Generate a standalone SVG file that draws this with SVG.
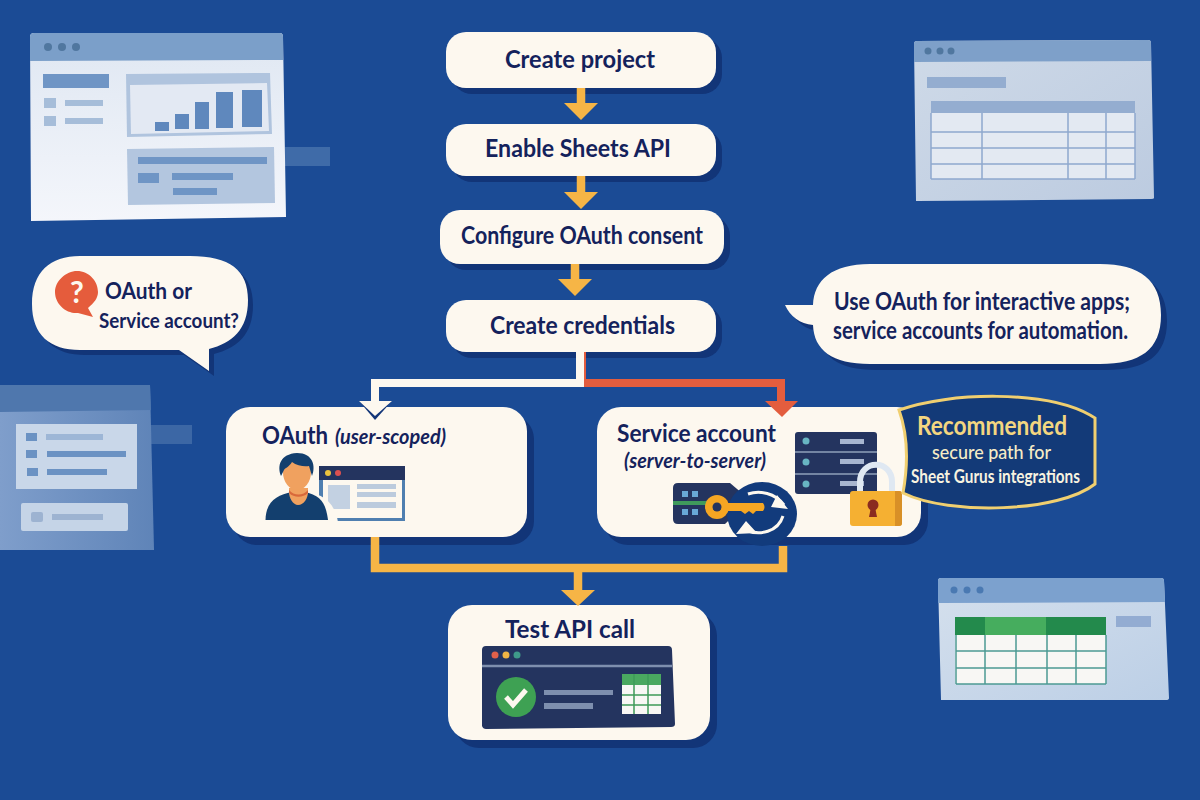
<svg xmlns="http://www.w3.org/2000/svg" width="1200" height="800" viewBox="0 0 1200 800">
<style>
text{font-family:"Lato","Open Sans","Liberation Sans",sans-serif;fill:#14225c;font-weight:700}
.t{font-size:24px}
.card{fill:#fdf8ef}
.sh{fill:#123578}
.y{fill:none;stroke:#f6b546;stroke-width:8.500}
</style>
<defs>
<marker id="ay" markerUnits="userSpaceOnUse" markerWidth="34" markerHeight="20" refX="17" refY="0" orient="0" viewBox="0 0 34 20" overflow="visible"><path d="M0 0H34L17 17Z" fill="#f6b546"/></marker>
<linearGradient id="w1" x1="0" y1="0" x2="0" y2="1"><stop offset="0" stop-color="#dfe7f2"/><stop offset="1" stop-color="#f4f6fb"/></linearGradient>
<linearGradient id="w3" x1="0" y1="0" x2="1" y2="0"><stop offset="0" stop-color="#7f9ecb"/><stop offset="1" stop-color="#5f84b8"/></linearGradient>
<linearGradient id="w2" x1="0" y1="0" x2="1" y2="1"><stop offset="0" stop-color="#cfdae8"/><stop offset="1" stop-color="#bccbe0"/></linearGradient>
<linearGradient id="w4" x1="0" y1="0" x2="1" y2="1"><stop offset="0" stop-color="#d5e0ed"/><stop offset="1" stop-color="#bccfe6"/></linearGradient>
</defs>
<rect width="1200" height="800" fill="#1b4b95"/>

<g id="window-dashboard">
<rect x="285" y="147" width="45" height="19" fill="#3f6ba8"/>
<path d="M30 37Q30 33 34 33L280 33Q283 33 283 37L286 217L31 221Z" fill="url(#w1)"/>
<path d="M30 37Q30 33 34 33L280 33Q283 33 283 37V60L30 61Z" fill="#7b9fc9"/>
<g fill="#50779f"><circle cx="48" cy="47" r="4"/><circle cx="62" cy="47" r="4"/><circle cx="76" cy="47" r="4"/></g>
<rect x="43" y="74" width="66" height="14" fill="#6f95c5"/>
<g fill="#a6bdd9"><rect x="44" y="98" width="12" height="10"/><rect x="65" y="100" width="38" height="6"/><rect x="44" y="116" width="12" height="10"/><rect x="65" y="118" width="38" height="6"/></g>
<path d="M126 74L270 73L272 134L127 137Z" fill="#b0c4de"/>
<path d="M130 85L267 83L269 131L131 134Z" fill="#e3e9f3"/>
<g fill="#5f88bd"><rect x="155" y="122" width="14" height="9"/><rect x="175" y="114" width="14" height="15"/><rect x="195" y="102" width="14" height="27"/><rect x="216" y="92" width="17" height="36"/><rect x="242" y="90" width="20" height="37"/></g>
<path d="M127 149L274 147L275 203L128 205Z" fill="#b3c6df"/>
<g fill="#6f95c5"><rect x="138" y="157" width="129" height="7"/><rect x="138" y="173" width="21" height="10"/><rect x="172" y="173" width="61" height="7"/><rect x="173" y="188" width="44" height="7"/></g>
</g>

<g id="window-list">
<rect x="150" y="425" width="42" height="19" fill="#3c67a5"/>
<path d="M0 385H150L154 550H0Z" fill="url(#w3)"/>
<path d="M0 385H150L151 410L0 412Z" fill="#4f77ad"/>
<rect x="16" y="424" width="121" height="65" fill="#c9d7e9"/>
<g fill="#6b92c3"><rect x="26" y="433" width="11" height="8"/><rect x="46" y="434" width="57" height="6" fill="#9db6d6"/><rect x="26" y="450" width="11" height="8"/><rect x="47" y="451" width="79" height="6"/><rect x="27" y="468" width="11" height="8"/><rect x="47" y="469" width="60" height="6"/></g>
<rect x="21" y="503" width="107" height="28" rx="2" fill="#c5d4e7"/>
<rect x="31" y="512" width="12" height="10" rx="2" fill="#9db3d1"/><rect x="52" y="514" width="51" height="6" fill="#9db3d1"/>
</g>

<g id="window-table">
<path d="M914 44Q914 41 917 41L1148 40Q1151 40 1151 43L1154 198Q1154 199 1151 199L917 201L916 201Z" fill="url(#w2)"/>
<path d="M914 44Q914 41 917 41L1148 40Q1151 40 1151 43V61L914 62Z" fill="#7ea0c9"/>
<g fill="#50779f"><circle cx="928" cy="51" r="3.500"/><circle cx="940" cy="51" r="3.500"/><circle cx="951" cy="51" r="3.500"/></g>
<rect x="927" y="77" width="79" height="11" fill="#94add0"/>
<rect x="931" y="101" width="204" height="78" fill="#e3e9f2"/>
<rect x="931" y="101" width="204" height="12" fill="#94add0"/>
<path d="M931 132H1135M931 148H1135M931 164H1135M982 113V179M1068 113V179M1106 113V179M931 179H1135M931 113V179M1135 113V179" fill="none" stroke="#8ea8ce" stroke-width="1.500"/>
</g>

<g id="window-sheet">
<path d="M938 581Q938 578 941 578L1161 578Q1164 578 1164 581L1169 698Q1169 700 1166 700L941 700Z" fill="url(#w4)"/>
<path d="M938 581Q938 578 941 578L1161 578Q1164 578 1164 581L1165 602L938 603Z" fill="#7ca1ce"/>
<g fill="#4a79b2"><circle cx="954" cy="590" r="3.500"/><circle cx="967" cy="590" r="3.500"/><circle cx="980" cy="590" r="3.500"/></g>
<rect x="1116" y="616" width="35" height="11" fill="#93acd2"/>
<rect x="955" y="617" width="151" height="67" fill="#f8f7f4"/>
<rect x="955" y="617" width="31" height="18" fill="#238a4c"/><rect x="985" y="617" width="62" height="18" fill="#46ad5e"/><rect x="1046" y="617" width="60" height="18" fill="#238a4c"/>
<path d="M956 651H1106M956 668H1106M985 635V684M1016 635V684M1047 635V684M1076 635V684M956 635V684M1106 635V684M956 684H1106" fill="none" stroke="#4c9a93" stroke-width="1.500"/>
</g>

<g id="bubble-question">
<path class="sh" transform="translate(5 5)" d="M80 256H190C230 256 248 270 248 300C248 330 232 343 209 349L209 371L179 350H80C50 350 32 335 32 304C32 272 50 256 80 256Z"/>
<path class="card" d="M80 256H190C230 256 248 270 248 300C248 330 232 343 209 349L209 371L179 350H80C50 350 32 335 32 304C32 272 50 256 80 256Z"/>
<path d="M77 271C66 271 55 281 55 292C55 304 66 314 78 313L93 317L88 308C94 303 98 298 98 292C98 281 89 271 77 271Z" fill="#e55c3c"/>
<text x="77" y="303" text-anchor="middle" font-size="30" style="fill:#fdf8ef">?</text>
<text x="105" y="299" font-size="23" textLength="87" lengthAdjust="spacingAndGlyphs">OAuth or</text>
<text x="99" y="328" font-size="20" textLength="140" lengthAdjust="spacingAndGlyphs">Service account?</text>
</g>

<g id="bubble-advice">
<path class="sh" transform="translate(6 6)" d="M870 264H1100C1140 264 1161 280 1161 315C1161 350 1140 364 1100 364H870C832 364 814 350 813 325C800 324 790 316 785 305H813C814 280 832 264 870 264Z"/>
<path class="card" d="M870 264H1100C1140 264 1161 280 1161 315C1161 350 1140 364 1100 364H870C832 364 814 350 813 325C800 324 790 316 785 305H813C814 280 832 264 870 264Z"/>
<text x="834" y="310" style="font-size:24px" textLength="296" lengthAdjust="spacingAndGlyphs">Use OAuth for interactive apps;</text>
<text x="833" y="339" style="font-size:24px" textLength="295" lengthAdjust="spacingAndGlyphs">service accounts for automation.</text>
</g>

<g id="node-create-project"><rect class="sh" x="452" y="38" width="270" height="56" rx="20"/><rect class="card" x="446" y="32" width="270" height="56" rx="20"/><text class="t" x="505" y="68" textLength="150" lengthAdjust="spacingAndGlyphs">Create project</text></g>
<g id="node-enable-api"><rect class="sh" x="452" y="130" width="270" height="52" rx="20"/><rect class="card" x="446" y="124" width="270" height="52" rx="20"/><text class="t" x="485" y="157" textLength="186" lengthAdjust="spacingAndGlyphs">Enable Sheets API</text></g>
<g id="node-consent"><rect class="sh" x="446" y="216" width="284" height="54" rx="20"/><rect class="card" x="440" y="210" width="284" height="54" rx="20"/><text class="t" x="461" y="244" textLength="242" lengthAdjust="spacingAndGlyphs">Configure OAuth consent</text></g>
<g id="node-credentials"><rect class="sh" x="452" y="306" width="270" height="52" rx="20"/><rect class="card" x="446" y="300" width="270" height="52" rx="20"/><text class="t" x="490" y="334" textLength="185" lengthAdjust="spacingAndGlyphs">Create credentials</text></g>

<g id="node-oauth">
<rect class="sh" x="233" y="415" width="301" height="130" rx="24"/><rect class="card" x="226" y="407" width="301" height="130" rx="24"/>
<text x="262" y="444" font-size="25" textLength="66" lengthAdjust="spacingAndGlyphs">OAuth</text><text x="335" y="444" font-size="20" font-style="italic" textLength="111" lengthAdjust="spacingAndGlyphs">(user-scoped)</text>
<rect x="319" y="466" width="86" height="55" fill="#4f7fb0"/><rect x="319" y="466" width="86" height="14" fill="#24345f"/>
<rect x="323" y="480" width="79" height="38" fill="#fdf8ef"/>
<circle cx="328" cy="473" r="3" fill="#ecc33e"/><circle cx="338" cy="473" r="3" fill="#dc5050"/>
<rect x="328" y="485" width="22" height="24" fill="#c3d1e2"/><g fill="#bccbdd"><rect x="357" y="484" width="39" height="5"/><rect x="357" y="492" width="39" height="5"/><rect x="357" y="502" width="39" height="6"/></g>
<path d="M262 522C264 500 275 492 298 491C321 492 334 500 338 522Z" fill="#fdf8ef"/>
<path d="M265.500 520C266 501 277 495 292 492H304C322 495 326 505 328 520Z" fill="#133f6e"/>
<path d="M289 488H308V492C308 498 304 505 298 505C293 505 289 498 289 492Z" fill="#f0a15f"/>
<path d="M289 490C294 496 303 496 308 490V493C303 498 294 498 289 493Z" fill="#d9693a"/>
<ellipse cx="297" cy="472" rx="14" ry="18" fill="#f0a15f"/>
<path d="M281 476C277 466 280 454 297 453C313 453 316 466 312 476L309 466C305 467 297 466 292 462C289 467 285 468 284 470Z" fill="#133f6e"/>
</g>

<g id="node-service">
<rect class="sh" x="604" y="415" width="324" height="130" rx="24"/><rect class="card" x="597" y="407" width="324" height="130" rx="24"/>
<text x="617" y="442" font-size="25" textLength="159" lengthAdjust="spacingAndGlyphs">Service account</text><text x="624" y="468" font-size="20" font-style="italic" textLength="142" lengthAdjust="spacingAndGlyphs">(server-to-server)</text>
<rect x="795" y="432" width="82" height="62" rx="3" fill="#24345f"/>
<path d="M795 452H877M795 474H877" stroke="#8ea0bb" stroke-width="1.500"/>
<g fill="#68b5c2"><circle cx="806" cy="441" r="3.500"/><circle cx="806" cy="462" r="3.500"/><circle cx="806" cy="484" r="3.500"/></g>
<g fill="#a7b5cf"><rect x="840" y="439" width="24" height="5"/><rect x="840" y="459" width="24" height="5"/><rect x="840" y="481" width="24" height="5"/></g>
<path d="M673 488Q673 483 678 483H730L750 500L725 524H678Q673 524 673 519Z" fill="#24345f"/>
<g fill="#68a8d6"><rect x="682" y="491" width="6" height="6"/><rect x="692" y="491" width="6" height="6"/><rect x="682" y="509" width="6" height="6"/><rect x="692" y="509" width="6" height="6"/></g>
<rect x="673" y="501" width="37" height="4" fill="#3f9a5c"/>
<ellipse cx="762" cy="514" rx="35" ry="32" fill="#123b7c"/>
<path d="M748 494C760 490 775 493 784 505M783 516C778 532 760 536 745 530" fill="none" stroke="#fdf8ef" stroke-width="3"/>
<path d="M777 495L788 509L771 507Z M746 521L757 533L736 534Z" fill="#fdf8ef"/>
<circle cx="717" cy="507" r="12" fill="#f5a623"/><circle cx="717" cy="507" r="4.500" fill="#24345f"/>
<path d="M727 503H763Q766 507 763 511H756L753 514L749 511L745 514L741 511H727Z" fill="#f5a623"/>
<path d="M860 492V482C860 459 892 459 892 482V492" fill="none" stroke="#dfe8f2" stroke-width="6"/>
<rect x="850" y="491" width="52" height="35" rx="3" fill="#f5b032"/><path d="M895 491H899Q902 491 902 494V523Q902 526 899 526H895Z" fill="#d89027"/>
<circle cx="873" cy="505" r="5.500" fill="#8a2b20"/><path d="M871 507H875L877 517H869Z" fill="#8a2b20"/>
</g>

<g id="badge-recommended">
<path d="M899 410C950 392 1045 390 1090 415L1095 418V484C1060 512 950 516 903 493C908 465 908 435 899 410Z" fill="#133a78" stroke="#f0cf70" stroke-width="3"/>
<text x="917" y="435" font-size="27" style="fill:#f3d680" textLength="150" lengthAdjust="spacingAndGlyphs">Recommended</text>
<text x="932" y="459" font-size="19" style="fill:#f6ecc6;font-weight:500" textLength="119" lengthAdjust="spacingAndGlyphs">secure path for</text>
<text x="911" y="483" font-size="18" style="fill:#f8f3e0" textLength="169" lengthAdjust="spacingAndGlyphs">Sheet Gurus integrations</text>
</g>

<g id="node-test">
<rect class="sh" x="455" y="612" width="262" height="136" rx="24"/><rect class="card" x="448" y="605" width="262" height="135" rx="24"/>
<text class="t" x="505" y="638" textLength="130" lengthAdjust="spacingAndGlyphs">Test API call</text>
<path d="M486 646H668Q672 646 672 650L675 724Q675 727 671 727L486 729Q483 729 482 726L482 650Q482 646 486 646Z" fill="#24345f"/>
<path d="M482 666H672" stroke="#7e8fae" stroke-width="2.500"/>
<circle cx="495" cy="655" r="3.500" fill="#e0604a"/><circle cx="506" cy="655" r="3.500" fill="#f0b545"/><circle cx="517" cy="655" r="3.500" fill="#3f9a8a"/>
<circle cx="516" cy="697" r="20" fill="#3ea153"/>
<path d="M506 697L513 705L526 690" fill="none" stroke="#fdf8ef" stroke-width="5"/>
<rect x="544" y="690" width="69" height="5" fill="#7e8fae"/><rect x="544" y="703" width="49" height="6" fill="#7e8fae"/>
<rect x="622" y="674" width="39" height="40" fill="#f8f7f4"/><rect x="622" y="674" width="39" height="11" fill="#4aa860"/>
<path d="M622 695H661M622 705H661M634 674V714M648 674V714" stroke="#3e9a58" stroke-width="1.500"/>
</g>

<g id="connectors">
<path d="M581 88V103" class="y" marker-end="url(#ay)"/>
<path d="M581 176V192" class="y" marker-end="url(#ay)"/>
<path d="M575 264V279" class="y" marker-end="url(#ay)"/>
<path d="M375 537V568H783V546M578 568V590" class="y" />
<path d="M561 590H595L578 606Z" fill="#f6b546"/>
<path d="M582 352V383H781V401" fill="none" stroke="#e35d3e" stroke-width="8"/>
<path d="M580 352V383H375V402" fill="none" stroke="#fdf8ef" stroke-width="8"/>
<path d="M359 401H392L375 420Z" fill="#123578"/><path d="M359 401H392L375 416Z" fill="#fdf8ef"/>
<path d="M765 401H798L782 417Z" fill="#e35d3e"/>
</g>
</svg>
